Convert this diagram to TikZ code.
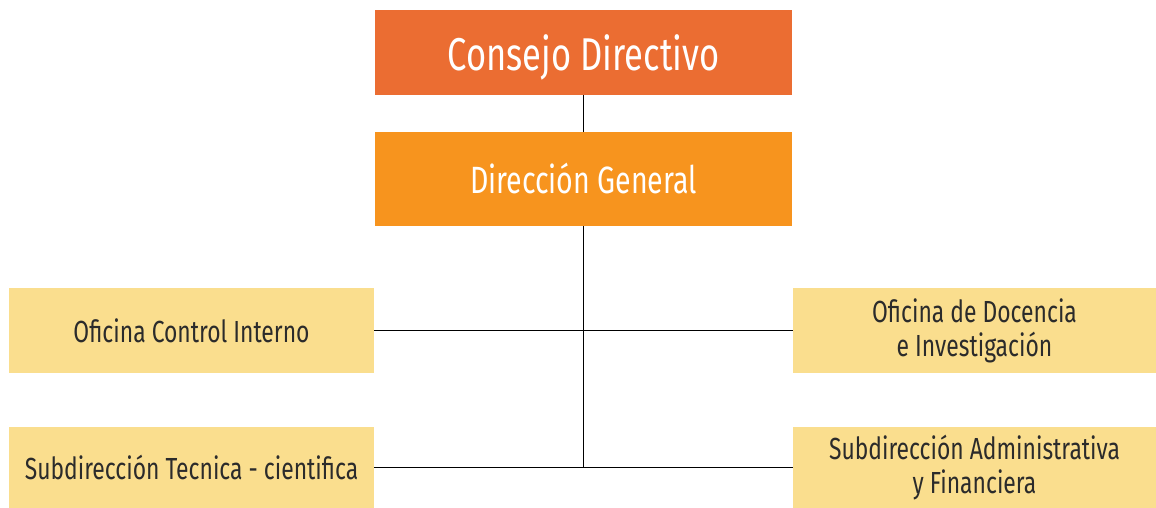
\documentclass[tikz,border=0pt]{standalone}
\usepackage{fontspec}
\setmainfont[FakeStretch=0.75]{Fira Sans}
\usepackage{tikz}
\usetikzlibrary{positioning,calc}
\definecolor{consejo}{HTML}{EB6D32}
\definecolor{direccion}{HTML}{F7941E}
\definecolor{oficina}{HTML}{FADE8E}
\definecolor{texto}{HTML}{2B2B2B}

\begin{document}
\begin{tikzpicture}[x=1pt,y=-1pt,
  topbox/.style={rectangle, inner sep=0pt, minimum width=417pt, text=white},
  subbox/.style={rectangle, inner sep=0pt, fill=oficina, text=texto,
    align=center, font=\fontsize{30.5}{34}\selectfont},
  link/.style={black, line width=1.6pt}]
\useasboundingbox (0,0) rectangle (1156,508);

% top levels
\node[topbox, fill=consejo, minimum height=85pt, text depth=0pt,
  font=\fontsize{46}{52}\selectfont]
  (consejo) at (583.5,52.5) {Consejo Directivo};
\node[topbox, fill=direccion, minimum height=94pt, font=\fontsize{38}{44}\selectfont]
  (direccion) at (583.5,179) {Dirección General};

% offices
\node[subbox, minimum width=365pt, minimum height=85pt] (control) at (191.5,330.5)
  {Oficina Control Interno};
\node[subbox, minimum width=363pt, minimum height=85pt] (docencia) at (974.5,330.5)
  {Oficina de Docencia\\e Investigación};
\node[subbox, minimum width=365pt, minimum height=81pt] (tecnica) at (191.5,467.5)
  {Subdirección Tecnica - cientifica};
\node[subbox, minimum width=363pt, minimum height=81pt] (admin) at (974.5,467.5)
  {Subdirección Administrativa\\y Financiera};

% connectors
\coordinate (bajo) at (direccion.south |- tecnica.east);
\draw[link] (consejo.south) -- (direccion.north);
\draw[link] (direccion.south) -- (bajo);
\draw[link] (control.east) -- (docencia.west);
\draw[link] (tecnica.east) -- (admin.west);
\end{tikzpicture}
\end{document}
